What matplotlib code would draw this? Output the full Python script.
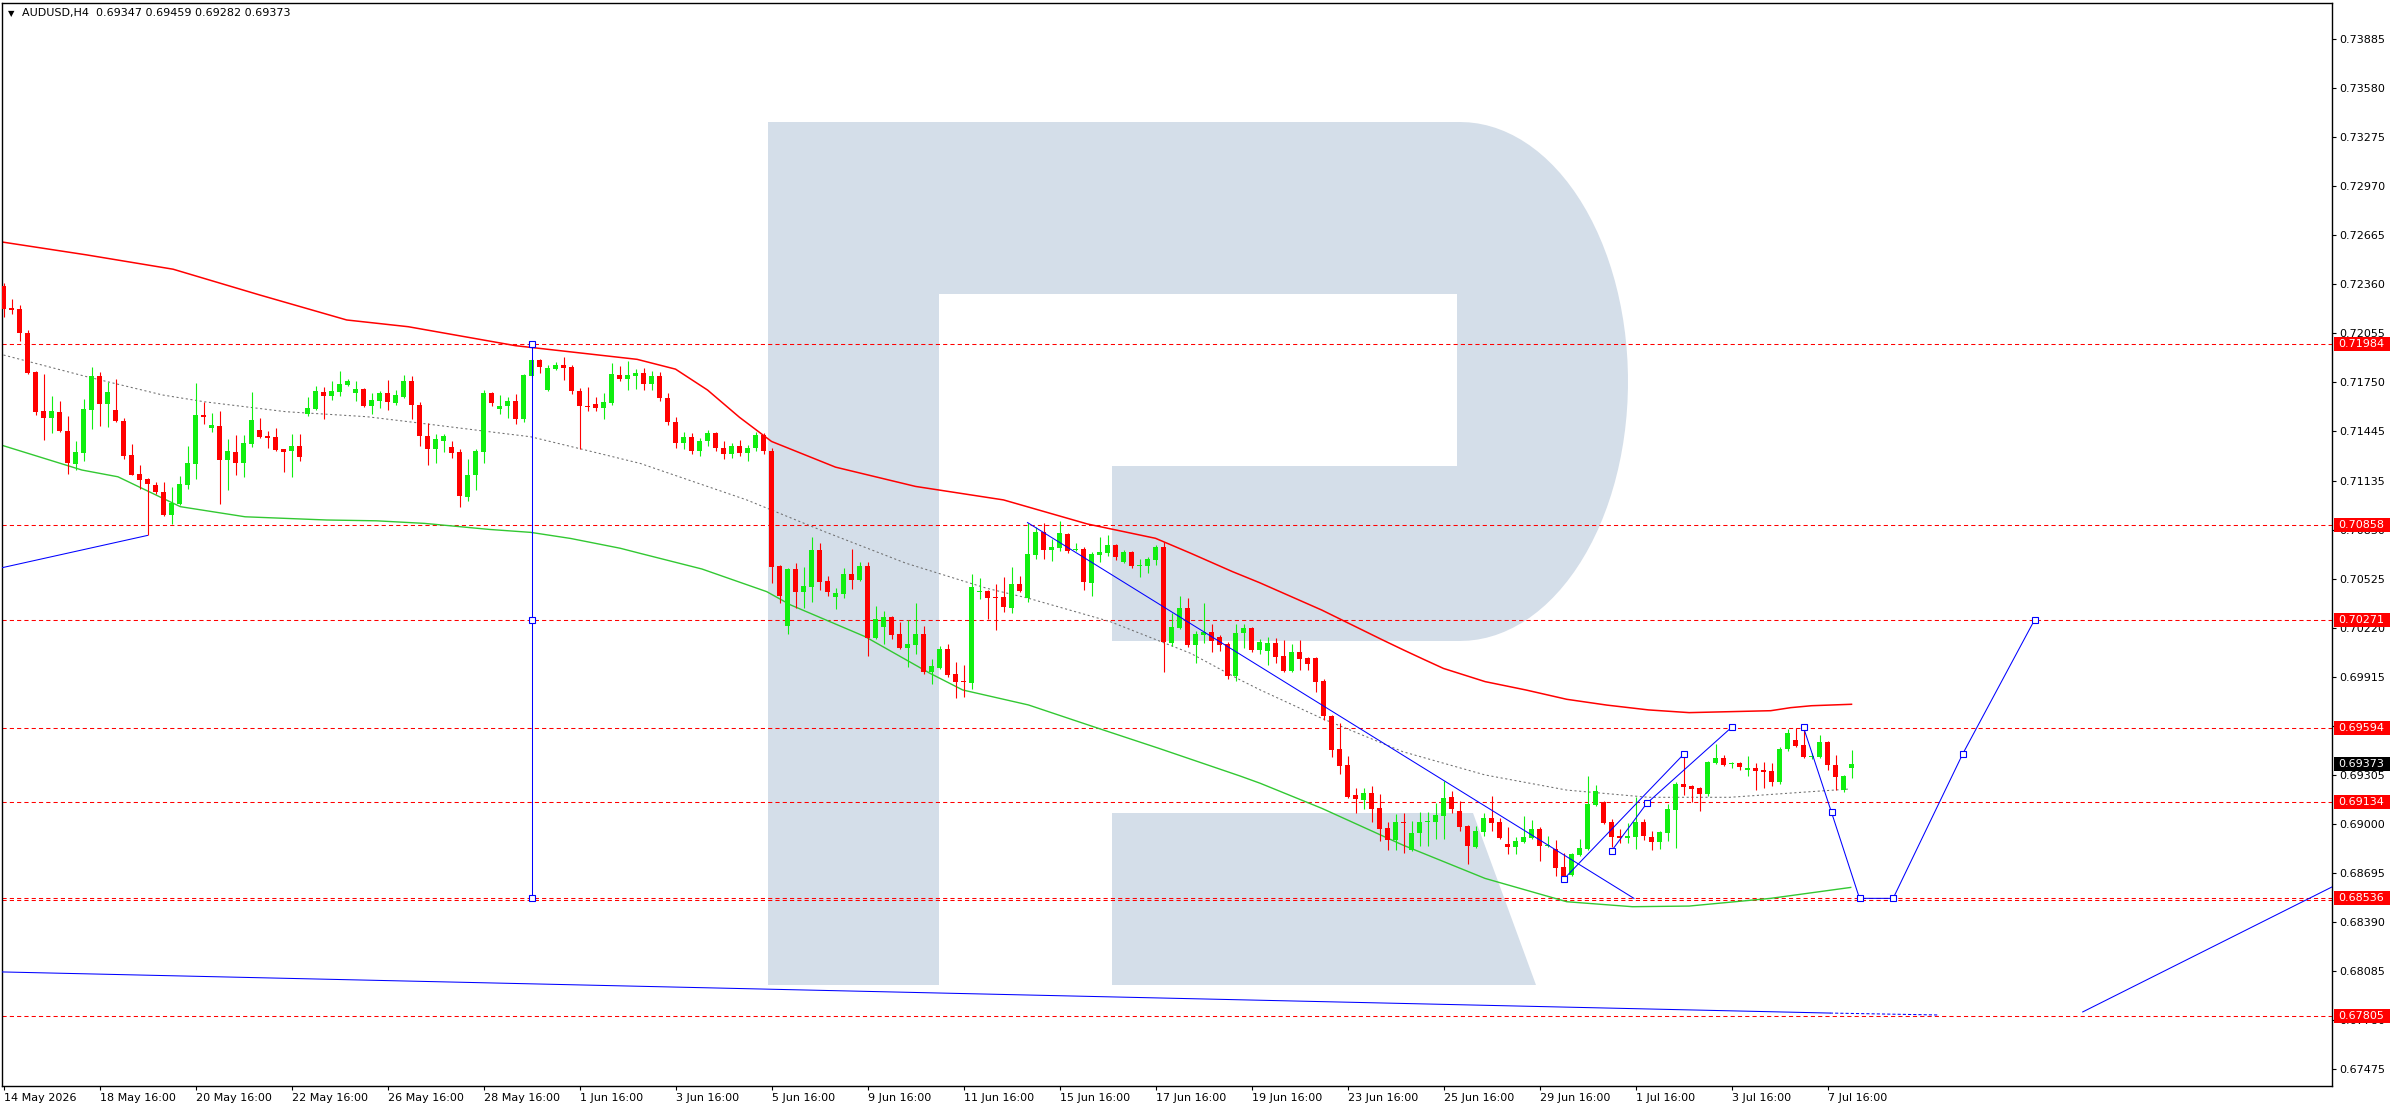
import numpy as np
import matplotlib
matplotlib.use("Agg")
import matplotlib.pyplot as plt
import matplotlib.transforms as mtrans
from matplotlib.path import Path
from matplotlib.patches import PathPatch, Rectangle

# ---------------- data (AUDUSD H4) ----------------
opens = [
    0.72347, 0.72212, 0.72204, 0.72055, 0.71812, 0.71569, 0.71528, 0.71563, 0.71445, 0.71241,
    0.71308, 0.71577, 0.71787, 0.71615, 0.71575, 0.71507, 0.71295, 0.71177, 0.71146, 0.71108,
    0.71065, 0.70922, 0.70992, 0.71110, 0.71241, 0.71544, 0.71465, 0.71476, 0.71266, 0.71314,
    0.71247, 0.71366, 0.71451, 0.71413, 0.71407, 0.71332, 0.71322, 0.71351, 0.71550, 0.71581,
    0.71687, 0.71664, 0.71687, 0.71731, 0.71681, 0.71706, 0.71600, 0.71631, 0.71681, 0.71619,
    0.71656, 0.71756, 0.71606, 0.71413, 0.71332, 0.71382, 0.71345, 0.71314, 0.71034, 0.71171,
    0.71314, 0.71681, 0.71581, 0.71600, 0.71631, 0.71519, 0.71787, 0.71887, 0.71700, 0.71830,
    0.71855, 0.71843, 0.71694, 0.71600, 0.71613, 0.71588, 0.71619, 0.71793, 0.71768, 0.71787,
    0.71806, 0.71740, 0.71790, 0.71650, 0.71500, 0.71370, 0.71410, 0.71320, 0.71380, 0.71430,
    0.71340, 0.71300, 0.71350, 0.71310, 0.71340, 0.71420, 0.71320, 0.70605, 0.70234, 0.70586,
    0.70443, 0.70477, 0.70705, 0.70512, 0.70414, 0.70433, 0.70555, 0.70520, 0.70605, 0.70159,
    0.70227, 0.70288, 0.70182, 0.70097, 0.70115, 0.70182, 0.69947, 0.69972, 0.70089, 0.69933,
    0.69889, 0.69879, 0.70441, 0.70450, 0.70412, 0.70412, 0.70346, 0.70493, 0.70408, 0.70674,
    0.70817, 0.70705, 0.70719, 0.70806, 0.70707, 0.70711, 0.70501, 0.70674, 0.70686, 0.70736,
    0.70630, 0.70692, 0.70607, 0.70605, 0.70642, 0.70723, 0.70128, 0.70219, 0.70344, 0.70113,
    0.70178, 0.70194, 0.70163, 0.70120, 0.69920, 0.70188, 0.70219, 0.70082, 0.70078, 0.70123,
    0.70046, 0.69953, 0.70067, 0.70030, 0.70034, 0.69891, 0.69669, 0.69465, 0.69364, 0.69181,
    0.69150, 0.69192, 0.69098, 0.68974, 0.68901, 0.69013, 0.68839, 0.68941, 0.69013, 0.69013,
    0.69051, 0.69167, 0.69080, 0.68988, 0.68858, 0.68951, 0.69038, 0.69013, 0.68874, 0.68853,
    0.68889, 0.68914, 0.68968, 0.68864, 0.68841, 0.68731, 0.68683, 0.68808, 0.68843, 0.69119,
    0.69138, 0.69013, 0.68926, 0.68914, 0.68920, 0.69013, 0.68920, 0.68889, 0.68945, 0.69088,
    0.69250, 0.69237, 0.69225, 0.69187, 0.69380, 0.69409, 0.69372, 0.69378, 0.69337, 0.69347,
    0.69335, 0.69329, 0.69262, 0.69463, 0.69522, 0.69490, 0.69418, 0.69418, 0.69509, 0.69368,
    0.69210, 0.69347,
]
highs = [
    0.72364, 0.72266, 0.72229, 0.72073, 0.71818, 0.71799, 0.71662, 0.71633, 0.71538, 0.71382,
    0.71644, 0.71843, 0.71812, 0.71750, 0.71768, 0.71523, 0.71364, 0.71233, 0.71154, 0.71127,
    0.71127, 0.71098, 0.71164, 0.71351, 0.71743, 0.71625, 0.71554, 0.71569, 0.71395, 0.71420,
    0.71420, 0.71687, 0.71525, 0.71445, 0.71465, 0.71335, 0.71426, 0.71428, 0.71656, 0.71725,
    0.71716, 0.71754, 0.71818, 0.71768, 0.71756, 0.71712, 0.71681, 0.71694, 0.71762, 0.71700,
    0.71793, 0.71787, 0.71625, 0.71496, 0.71426, 0.71426, 0.71382, 0.71332, 0.71270, 0.71332,
    0.71700, 0.71687, 0.71669, 0.71656, 0.71675, 0.71800, 0.71895, 0.71893, 0.71855, 0.71874,
    0.71905, 0.71855, 0.71712, 0.71718, 0.71656, 0.71681, 0.71868, 0.71849, 0.71880, 0.71830,
    0.71840, 0.71820, 0.71810, 0.71680, 0.71530, 0.71440, 0.71430, 0.71400, 0.71450, 0.71440,
    0.71380, 0.71370, 0.71390, 0.71360, 0.71440, 0.71430, 0.71340, 0.70611, 0.70595, 0.70622,
    0.70599, 0.70786, 0.70748, 0.70543, 0.70468, 0.70593, 0.70711, 0.70630, 0.70630, 0.70356,
    0.70325, 0.70295, 0.70257, 0.70269, 0.70375, 0.70232, 0.70026, 0.70107, 0.70120, 0.70008,
    0.69989, 0.70555, 0.70530, 0.70456, 0.70493, 0.70537, 0.70599, 0.70543, 0.70875, 0.70848,
    0.70873, 0.70773, 0.70885, 0.70813, 0.70748, 0.70723, 0.70692, 0.70786, 0.70798, 0.70742,
    0.70705, 0.70699, 0.70649, 0.70661, 0.70738, 0.70755, 0.70313, 0.70418, 0.70406, 0.70201,
    0.70375, 0.70244, 0.70178, 0.70134, 0.70246, 0.70244, 0.70225, 0.70150, 0.70165, 0.70154,
    0.70144, 0.70119, 0.70144, 0.70040, 0.70040, 0.69899, 0.69675, 0.69627, 0.69422, 0.69223,
    0.69223, 0.69235, 0.69185, 0.69013, 0.69063, 0.69069, 0.69015, 0.69073, 0.69073, 0.69129,
    0.69266, 0.69204, 0.69142, 0.68995, 0.68986, 0.69069, 0.69175, 0.69038, 0.68982, 0.68920,
    0.69048, 0.69023, 0.68982, 0.68926, 0.68899, 0.68816, 0.68816, 0.68905, 0.69299, 0.69243,
    0.69144, 0.69032, 0.68968, 0.69003, 0.69169, 0.69032, 0.68957, 0.68955, 0.69123, 0.69258,
    0.69418, 0.69243, 0.69232, 0.69390, 0.69497, 0.69430, 0.69387, 0.69382, 0.69422, 0.69380,
    0.69385, 0.69380, 0.69478, 0.69592, 0.69596, 0.69607, 0.69443, 0.69553, 0.69515, 0.69428,
    0.69306, 0.69459,
]
lows = [
    0.72156, 0.72173, 0.72007, 0.71800, 0.71544, 0.71389, 0.71434, 0.71440, 0.71179, 0.71202,
    0.71258, 0.71459, 0.71476, 0.71469, 0.71501, 0.71272, 0.71168, 0.71086, 0.70795, 0.71050,
    0.70915, 0.70864, 0.70985, 0.71086, 0.71148, 0.71490, 0.71440, 0.70992, 0.71079, 0.71173,
    0.71160, 0.71347, 0.71403, 0.71339, 0.71320, 0.71191, 0.71160, 0.71260, 0.71540, 0.71577,
    0.71519, 0.71640, 0.71660, 0.71725, 0.71631, 0.71595, 0.71550, 0.71588, 0.71575, 0.71606,
    0.71650, 0.71519, 0.71351, 0.71233, 0.71245, 0.71314, 0.71276, 0.70971, 0.71009, 0.71077,
    0.71245, 0.71600, 0.71552, 0.71525, 0.71490, 0.71503, 0.71780, 0.71806, 0.71695, 0.71824,
    0.71762, 0.71675, 0.71332, 0.71569, 0.71569, 0.71519, 0.71606, 0.71756, 0.71700, 0.71706,
    0.71700, 0.71700, 0.71630, 0.71480, 0.71340, 0.71330, 0.71300, 0.71290, 0.71350, 0.71320,
    0.71270, 0.71280, 0.71290, 0.71260, 0.71320, 0.71300, 0.70497, 0.70373, 0.70184, 0.70346,
    0.70346, 0.70383, 0.70456, 0.70420, 0.70340, 0.70408, 0.70462, 0.70510, 0.70047, 0.70150,
    0.70122, 0.70153, 0.70089, 0.69979, 0.70059, 0.69933, 0.69873, 0.69965, 0.69914, 0.69785,
    0.69792, 0.69842, 0.70402, 0.70277, 0.70209, 0.70319, 0.70313, 0.70445, 0.70383, 0.70649,
    0.70649, 0.70636, 0.70699, 0.70686, 0.70699, 0.70456, 0.70418, 0.70630, 0.70667, 0.70642,
    0.70624, 0.70593, 0.70539, 0.70562, 0.70611, 0.69945, 0.70107, 0.70210, 0.70101, 0.70001,
    0.70128, 0.70070, 0.70078, 0.69902, 0.69889, 0.70095, 0.70070, 0.70060, 0.69988, 0.69999,
    0.69943, 0.69945, 0.69957, 0.69957, 0.69822, 0.69646, 0.69418, 0.69312, 0.69163, 0.69069,
    0.69094, 0.69013, 0.68895, 0.68839, 0.68839, 0.68820, 0.68830, 0.68864, 0.68864, 0.68907,
    0.68907, 0.69069, 0.68957, 0.68752, 0.68851, 0.68926, 0.68957, 0.68905, 0.68814, 0.68814,
    0.68880, 0.68905, 0.68770, 0.68858, 0.68677, 0.68665, 0.68677, 0.68802, 0.68835, 0.69113,
    0.69000, 0.68858, 0.68882, 0.68878, 0.68845, 0.68901, 0.68839, 0.68845, 0.68895, 0.68851,
    0.69179, 0.69138, 0.69082, 0.69175, 0.69375, 0.69362, 0.69349, 0.69337, 0.69299, 0.69212,
    0.69225, 0.69237, 0.69250, 0.69455, 0.69478, 0.69411, 0.69403, 0.69410, 0.69337, 0.69212,
    0.69200, 0.69282,
]
closes = [
    0.72204, 0.72200, 0.72057, 0.71808, 0.71565, 0.71528, 0.71569, 0.71445, 0.71245, 0.71314,
    0.71581, 0.71787, 0.71615, 0.71687, 0.71507, 0.71291, 0.71173, 0.71142, 0.71113, 0.71065,
    0.70922, 0.70998, 0.71115, 0.71245, 0.71544, 0.71534, 0.71482, 0.71266, 0.71320, 0.71247,
    0.71370, 0.71513, 0.71409, 0.71403, 0.71328, 0.71316, 0.71351, 0.71285, 0.71588, 0.71694,
    0.71664, 0.71694, 0.71737, 0.71756, 0.71706, 0.71600, 0.71638, 0.71681, 0.71627, 0.71669,
    0.71756, 0.71606, 0.71413, 0.71332, 0.71395, 0.71413, 0.71308, 0.71040, 0.71171, 0.71320,
    0.71681, 0.71619, 0.71600, 0.71631, 0.71519, 0.71793, 0.71887, 0.71843, 0.71837, 0.71855,
    0.71837, 0.71694, 0.71600, 0.71592, 0.71588, 0.71625, 0.71799, 0.71768, 0.71793, 0.71806,
    0.71740, 0.71790, 0.71650, 0.71500, 0.71370, 0.71410, 0.71320, 0.71380, 0.71430, 0.71340,
    0.71300, 0.71350, 0.71310, 0.71340, 0.71420, 0.71320, 0.70601, 0.70420, 0.70586, 0.70445,
    0.70481, 0.70705, 0.70508, 0.70445, 0.70437, 0.70555, 0.70520, 0.70605, 0.70159, 0.70277,
    0.70290, 0.70178, 0.70097, 0.70120, 0.70182, 0.69947, 0.69983, 0.70089, 0.69929, 0.69885,
    0.69885, 0.70474, 0.70450, 0.70406, 0.70408, 0.70350, 0.70493, 0.70452, 0.70680, 0.70817,
    0.70705, 0.70723, 0.70811, 0.70699, 0.70711, 0.70508, 0.70680, 0.70692, 0.70736, 0.70661,
    0.70692, 0.70605, 0.70611, 0.70649, 0.70723, 0.70132, 0.70225, 0.70344, 0.70113, 0.70182,
    0.70194, 0.70138, 0.70115, 0.69920, 0.70188, 0.70219, 0.70082, 0.70130, 0.70127, 0.70040,
    0.69953, 0.70067, 0.70024, 0.69995, 0.69885, 0.69669, 0.69459, 0.69362, 0.69169, 0.69156,
    0.69192, 0.69094, 0.68970, 0.68901, 0.69013, 0.69003, 0.68945, 0.69013, 0.69017, 0.69057,
    0.69163, 0.69094, 0.68982, 0.68859, 0.68957, 0.69038, 0.69007, 0.68914, 0.68853, 0.68895,
    0.68920, 0.68968, 0.68864, 0.68870, 0.68727, 0.68677, 0.68812, 0.68849, 0.69125, 0.69206,
    0.69007, 0.68920, 0.68914, 0.68922, 0.69013, 0.68926, 0.68889, 0.68951, 0.69092, 0.69250,
    0.69231, 0.69219, 0.69187, 0.69385, 0.69409, 0.69368, 0.69378, 0.69356, 0.69349, 0.69331,
    0.69324, 0.69262, 0.69468, 0.69565, 0.69486, 0.69418, 0.69424, 0.69509, 0.69368, 0.69293,
    0.69299, 0.69373,
]

# Bollinger-style bands (bar index, price)
upper_x = [0, 10.4, 21.2, 32, 42.9, 50.6, 64, 79.2, 84, 88, 92, 96, 104, 114, 125, 135.5,
           144, 148.4, 153.6, 157, 164.8, 172.4, 175, 177.5, 180, 185.2, 190.3, 195.4, 200.4,
           205.6, 210.7, 215.8, 220.9, 223.4, 226, 231]
upper_y = [0.72620, 0.72541, 0.72452, 0.72292, 0.72136, 0.72094, 0.71976, 0.71891, 0.71830,
           0.71700, 0.71530, 0.71380, 0.71220, 0.71100, 0.71016, 0.70866, 0.70777, 0.70684,
           0.70570, 0.70501, 0.70330, 0.70144, 0.70082, 0.70024, 0.69967, 0.69885, 0.69833,
           0.69775, 0.69739, 0.69709, 0.69692, 0.69698, 0.69704, 0.69723, 0.69735, 0.69744]
lower_x = [0, 9.8, 14.3, 22.1, 30.2, 40.4, 46.6, 52.6, 60.8, 65.9, 70.9, 77.1, 79.6, 87.3,
           95.4, 98.4, 107.7, 115.8, 119.9, 128.1, 136.2, 144.4, 154.6, 157.1, 164.8, 174.9,
           185.2, 195.4, 203.6, 210.7, 220.9, 230.9]
lower_y = [0.71353, 0.71202, 0.71160, 0.70974, 0.70911, 0.70891, 0.70886, 0.70870, 0.70832,
           0.70814, 0.70776, 0.70715, 0.70683, 0.70586, 0.70445, 0.70362, 0.70165, 0.69937,
           0.69833, 0.69740, 0.69605, 0.69470, 0.69297, 0.69252, 0.69096, 0.68868, 0.68660,
           0.68515, 0.68484, 0.68488, 0.68536, 0.68604]
mid_x = [0, 10.4, 19.9, 25.1, 35.3, 45.4, 50.6, 60.8, 65.9, 73.6, 79.6, 92.9, 102.6, 112.8,
         122.9, 128.1, 138.3, 148.4, 154.6, 157.1, 164.8, 174.9, 185.2, 195.4, 205.6, 215.8,
         225.9, 230.6]
mid_y = [0.71918, 0.71783, 0.71669, 0.71627, 0.71565, 0.71534, 0.71503, 0.71440, 0.71409,
         0.71316, 0.71243, 0.71016, 0.70819, 0.70622, 0.70466, 0.70404, 0.70259, 0.70061,
         0.69895, 0.69833, 0.69656, 0.69449, 0.69304, 0.69210, 0.69165, 0.69165, 0.69200,
         0.69216]

# horizontal levels (red dashed) and drawn objects (blue)
levels = [0.71984, 0.70858, 0.70271, 0.69594, 0.69134, 0.68536, 0.67805]
level_twin = 0.68526
left_line_x, left_line_y = [-0.19, 18], [0.70594, 0.70795]
vline_bar, vline_y = 66, [0.71984, 0.70271, 0.68536]
trend_x, trend_y = [128, 203.8], [0.70875, 0.68536]
wave_a_x, wave_a_y = [195, 210], [0.68654, 0.69432]
wave_b_x, wave_b_y = [201, 205.4, 216], [0.68831, 0.69127, 0.69600]
forecast_x = [225, 228.5, 232, 236.2, 244.9, 253.9]
forecast_y = [0.69600, 0.69071, 0.68536, 0.68536, 0.69435, 0.70271]
base_x, base_y = [-0.19, 228.3], [0.68078, 0.67822]
base_tail_x, base_tail_y = [228.3, 241.9], [0.67822, 0.67810]
rise_x, rise_y = [259.9, 291.06], [0.67829, 0.68607]

yticks = [0.73885, 0.73580, 0.73275, 0.72970, 0.72665, 0.72360, 0.72055, 0.71750, 0.71445,
          0.71135, 0.70830, 0.70525, 0.70220, 0.69915, 0.69610, 0.69305, 0.69000, 0.68695,
          0.68390, 0.68085, 0.67780, 0.67475]
xtick_labels = ["14 May 2026", "18 May 16:00", "20 May 16:00", "22 May 16:00", "26 May 16:00",
                "28 May 16:00", "1 Jun 16:00", "3 Jun 16:00", "5 Jun 16:00", "9 Jun 16:00",
                "11 Jun 16:00", "15 Jun 16:00", "17 Jun 16:00", "19 Jun 16:00", "23 Jun 16:00",
                "25 Jun 16:00", "29 Jun 16:00", "1 Jul 16:00", "3 Jul 16:00", "7 Jul 16:00"]
bars_per_label = 12

# ---------------- figure ----------------
W, H = 2396, 1110
fig = plt.figure(figsize=(W / 100, H / 100), dpi=100)
ax = fig.add_axes([2 / W, (H - 1086) / H, 2330 / W, 1083 / H])
ax.set_xlim(-0.19, 291.06)
ax.set_ylim(0.67368, 0.74109)
for s in ax.spines.values():
    s.set_linewidth(1.0)
    s.set_color("black")

# watermark logo (figure pixel coordinates)
px = mtrans.Affine2D().scale(1 / W, -1 / H).translate(0, 1) + fig.transFigure
ang = np.linspace(np.pi / 2, -np.pi / 2, 60)
arc = [(1460 + 168 * np.cos(a), 381.5 - 259.5 * np.sin(a)) for a in ang]
bowl = [(768, 122)] + arc + [(1112, 641), (1112, 466), (1457, 466), (1457, 294),
                             (939, 294), (939, 985), (768, 985), (768, 122)]
leg = [(1112, 813), (1473, 813), (1536, 985), (1112, 985), (1112, 813)]
verts, codes = [], []
for poly in (bowl, leg):
    verts += poly
    codes += [Path.MOVETO] + [Path.LINETO] * (len(poly) - 2) + [Path.CLOSEPOLY]
ax.add_patch(PathPatch(Path(verts, codes), transform=px, facecolor="#d4dee9",
                       edgecolor="none", zorder=0.5))

# levels
lw1 = 0.75
for lv in levels + [level_twin]:
    ax.axhline(lv, color="#ff0000", lw=lw1, ls=(0, (4, 3)), zorder=1)

# bands
ax.plot(upper_x, upper_y, color="#ff0000", lw=1.1, zorder=2)
ax.plot(lower_x, lower_y, color="#32c832", lw=1.0, zorder=2)
ax.plot(mid_x, mid_y, color="#6e6e6e", lw=lw1, ls=(0, (2, 2.5)), zorder=2)

# candles
o, h, l, c = map(np.array, (opens, highs, lows, closes))
idx = np.arange(len(o))
cols = np.where(c >= o, "#10ee10", "#ff0000")
ax.vlines(idx, l, h, colors=cols, lw=0.8, zorder=4)
ax.bar(idx, np.maximum(np.abs(c - o), 0.00005), 0.62, bottom=np.minimum(o, c),
       color=cols, lw=0, zorder=5)

# blue drawn objects
blue = "#0000ff"
mk = dict(marker="s", ms=4, mfc="white", mec=blue, mew=0.8)
ax.plot(left_line_x, left_line_y, color=blue, lw=lw1, zorder=6)
ax.plot([vline_bar] * 3, vline_y, color=blue, lw=lw1, zorder=6, **mk)
ax.plot(trend_x, trend_y, color=blue, lw=lw1, zorder=6)
ax.plot(wave_a_x, wave_a_y, color=blue, lw=lw1, zorder=6, **mk)
ax.plot(wave_b_x, wave_b_y, color=blue, lw=lw1, zorder=6, **mk)
ax.plot(forecast_x, forecast_y, color=blue, lw=lw1, zorder=6, **mk)
ax.plot(base_x, base_y, color=blue, lw=lw1, zorder=6)
ax.plot(base_tail_x, base_tail_y, color=blue, lw=lw1, ls=(0, (3, 2)), zorder=6)
ax.plot(rise_x, rise_y, color=blue, lw=lw1, zorder=6)

# axes ticks
ax.yaxis.tick_right()
ax.set_yticks(yticks)
ax.set_yticklabels([f"{v:.5f}" for v in yticks])
ax.tick_params(axis="y", direction="out", length=3, width=0.8, pad=2.2, labelsize=8)
ax.set_xticks([bars_per_label * k for k in range(len(xtick_labels))])
ax.set_xticklabels(xtick_labels, ha="left")
ax.tick_params(axis="x", direction="out", length=3, width=0.8, pad=2, labelsize=8)

# price tags on the scale
tr = mtrans.blended_transform_factory(ax.transAxes, ax.transData)
tag_h = 14 * (0.74109 - 0.67368) / 1083
for lv, bg in [(v, "#ff0000") for v in levels] + [(closes[-1], "black")]:
    ax.add_patch(Rectangle((1.0009, lv - tag_h / 2), 0.024, tag_h, transform=tr,
                           facecolor=bg, edgecolor="none", clip_on=False, zorder=7))
    ax.text(1.0026, lv, f"{lv:.5f}", transform=tr, color="white", fontsize=8,
            va="center", ha="left", clip_on=False, zorder=8)

# header
hdr = "AUDUSD,H4  " + " ".join(f"{v:.5f}" for v in (opens[-1], highs[-1], lows[-1], closes[-1]))
ax.text(0.0027, 0.9907, "\u25bc", transform=ax.transAxes, fontsize=6, va="center", ha="left")
ax.text(0.0086, 0.9907, hdr, transform=ax.transAxes, fontsize=8, va="center", ha="left")

fig.savefig("out.png", dpi=100)
